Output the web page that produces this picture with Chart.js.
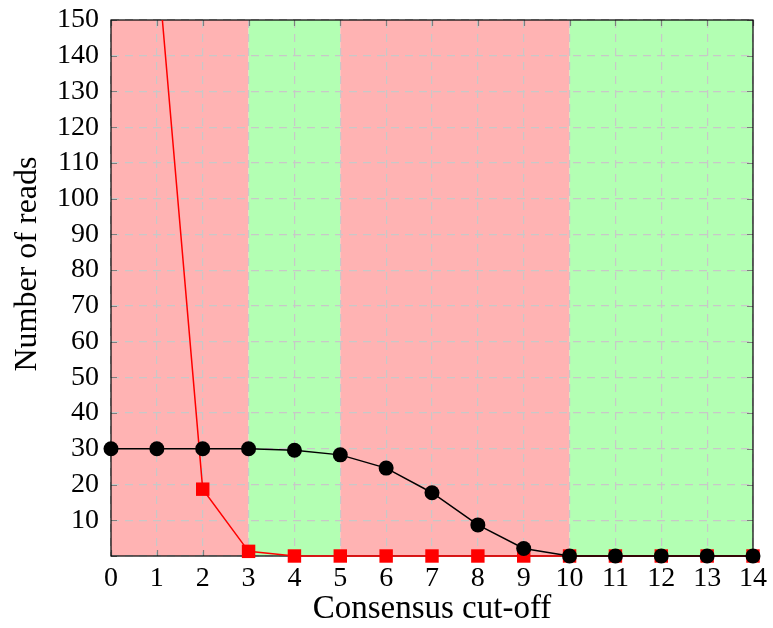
<!DOCTYPE html>
<html>
<head>
<meta charset="utf-8">
<script src="https://cdn.jsdelivr.net/npm/chart.js@4/dist/chart.umd.min.js"></script>
<style>
  html, body { margin: 0; padding: 0; background: #fff; }
  #wrap { width: 773px; height: 628px; }
</style>
</head>
<body>
<div id="wrap"><canvas id="grafico"></canvas></div>
<script>
var cutoffs = [0, 1, 2, 3, 4, 5, 6, 7, 8, 9, 10, 11, 12, 13, 14];
var readsBlack = [30, 30, 30, 30, 29.6, 28.3, 24.6, 17.7, 8.7, 2.1, 0, 0, 0, 0, 0];
var readsRed = [null, 168, 18.7, 1.3, 0, 0, 0, 0, 0, 0, 0, 0, 0, 0, 0];

// coloured regions along x: [from, to, colour]
var bandFrom = [0, 3, 5, 10];
var bandTo = [3, 5, 10, 14];
var bandCor = ['#ffb3b3', '#b3ffb3', '#ffb3b3', '#b3ffb3'];

var fonte = "'Liberation Serif', 'DejaVu Serif', serif";

function pontos(valores) {
    var arr = [];
    for (let i = 0; i < cutoffs.length; i++) {
        if (valores[i] !== null) arr.push({ x: cutoffs[i], y: valores[i] });
    }
    return arr;
}

var fundo = {
    id: 'fundo',
    beforeDraw: function (chart) {
        var ctx = chart.ctx;
        var area = chart.chartArea;
        var x = chart.scales.x;
        ctx.save();
        for (let i = 0; i < bandFrom.length; i++) {
            var a = x.getPixelForValue(bandFrom[i]);
            var b = x.getPixelForValue(bandTo[i]);
            ctx.fillStyle = bandCor[i];
            ctx.fillRect(a, area.top, b - a, area.bottom - area.top);
        }
        ctx.restore();
    },
    beforeDatasetsDraw: function (chart) {
        var ctx = chart.ctx;
        var area = chart.chartArea;
        var x = chart.scales.x;
        var y = chart.scales.y;
        ctx.save();
        // inner tick marks on all four sides
        ctx.strokeStyle = '#7f7f7f';
        ctx.lineWidth = 1.2;
        ctx.beginPath();
        x.ticks.forEach(function (t) {
            var px = Math.round(x.getPixelForValue(t.value)) + 0.5;
            ctx.moveTo(px, area.bottom); ctx.lineTo(px, area.bottom - 6);
            ctx.moveTo(px, area.top); ctx.lineTo(px, area.top + 6);
        });
        y.ticks.forEach(function (t) {
            var py = Math.round(y.getPixelForValue(t.value)) + 0.5;
            ctx.moveTo(area.left, py); ctx.lineTo(area.left + 6, py);
            ctx.moveTo(area.right, py); ctx.lineTo(area.right - 6, py);
        });
        ctx.stroke();
        // frame
        ctx.strokeStyle = '#000';
        ctx.lineWidth = 1.2;
        ctx.strokeRect(area.left, area.top, area.right - area.left, area.bottom - area.top);
        ctx.restore();
    }
};

new Chart(document.getElementById('grafico'), {
    type: 'line',
    data: {
        datasets: [{
            data: pontos(readsBlack),
            borderColor: '#000',
            backgroundColor: '#000',
            borderWidth: 1.5,
            pointStyle: 'circle',
            pointRadius: 7.5,
            pointBorderWidth: 0,
            tension: 0,
            clip: false
        }, {
            data: pontos(readsRed),
            borderColor: '#ff0000',
            backgroundColor: '#ff0000',
            borderWidth: 1.5,
            pointStyle: 'rect',
            pointRadius: 9.5,
            pointBorderWidth: 0,
            tension: 0,
            clip: { left: 20, right: 20, top: 0, bottom: 20 }
        }]
    },
    options: {
        responsive: true,
        maintainAspectRatio: false,
        animation: false,
        layout: { padding: { left: 0, right: 20, top: 0, bottom: 0 } },
        plugins: {
            legend: { display: false },
            tooltip: { enabled: false }
        },
        scales: {
            x: {
                type: 'linear',
                min: 0,
                max: 14,
                afterFit: function (s) { s.height = 72; },
                ticks: {
                    stepSize: 1,
                    maxTicksLimit: 20,
                    color: '#000',
                    padding: 6,
                    font: { family: fonte, size: 28 }
                },
                grid: {
                    color: '#c8c8c8',
                    lineWidth: 1.2,
                    drawTicks: false
                },
                border: { display: false, dash: [8, 6] },
                title: {
                    display: true,
                    text: 'Consensus cut-off',
                    color: '#000',
                    padding: { top: 0, bottom: 0 },
                    font: { family: fonte, size: 33, lineHeight: 1.15 }
                }
            },
            y: {
                min: 0,
                max: 150,
                afterFit: function (s) { s.width = 111; s.paddingTop = 20; s.paddingBottom = 0; },
                ticks: {
                    stepSize: 10,
                    maxTicksLimit: 20,
                    color: '#000',
                    padding: 12,
                    font: { family: fonte, size: 28, lineHeight: 1 },
                    callback: function (v) { return v === 0 ? '' : v; }
                },
                grid: {
                    color: '#c8c8c8',
                    lineWidth: 1.2,
                    drawTicks: false
                },
                border: { display: false, dash: [8, 6] },
                title: {
                    display: true,
                    text: '\u2003\u2002Number of reads',
                    color: '#000',
                    padding: { top: 8, bottom: 4 },
                    font: { family: fonte, size: 32 }
                }
            }
        }
    },
    plugins: [fundo]
});
</script>
</body>
</html>
